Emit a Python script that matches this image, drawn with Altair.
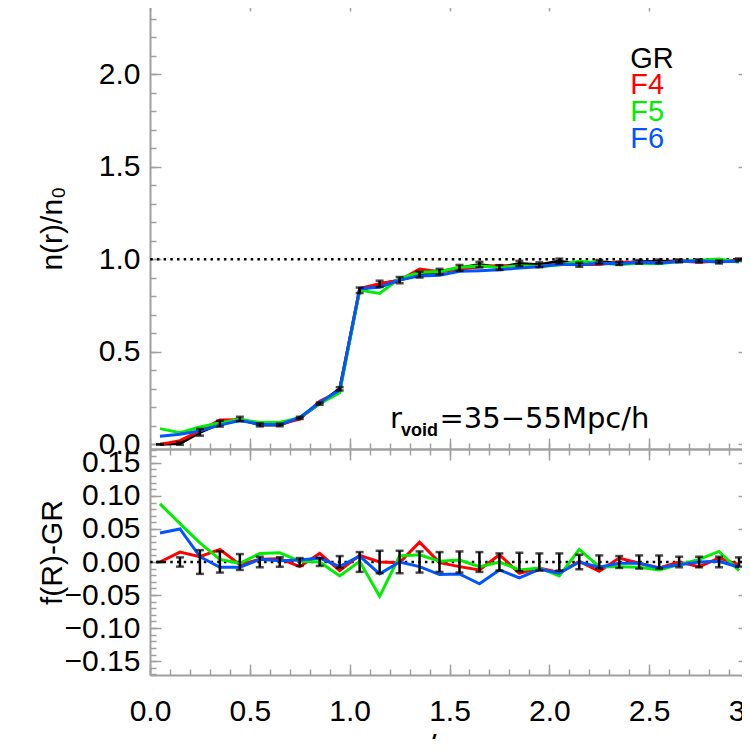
import altair as alt
import pandas as pd

# ---------------- data ----------------
r = [0.05, 0.15, 0.25, 0.35, 0.45, 0.55, 0.65, 0.75, 0.85, 0.95,
     1.05, 1.15, 1.25, 1.35, 1.45, 1.55, 1.65, 1.75, 1.85, 1.95,
     2.05, 2.15, 2.25, 2.35, 2.45, 2.55, 2.65, 2.75, 2.85, 2.95]

n_gr = [0.000, 0.005, 0.065, 0.112, 0.137, 0.105, 0.105, 0.143, 0.220, 0.300,
        0.832, 0.867, 0.887, 0.917, 0.933, 0.953, 0.971, 0.955, 0.977, 0.970,
        0.990, 0.970, 0.986, 0.978, 0.986, 0.988, 0.991, 0.991, 0.985, 0.997]
n_f4 = [0.000, 0.020, 0.073, 0.131, 0.133, 0.109, 0.110, 0.136, 0.233, 0.287,
        0.842, 0.867, 0.886, 0.947, 0.932, 0.946, 0.959, 0.966, 0.960, 0.961,
        0.974, 0.971, 0.972, 0.984, 0.984, 0.979, 0.991, 0.984, 0.991, 0.993]
n_f5 = [0.085, 0.063, 0.094, 0.116, 0.135, 0.118, 0.119, 0.144, 0.220, 0.279,
        0.833, 0.815, 0.896, 0.928, 0.934, 0.956, 0.964, 0.955, 0.965, 0.961,
        0.969, 0.989, 0.979, 0.971, 0.978, 0.976, 0.987, 0.995, 1.001, 0.984]
n_f6 = [0.044, 0.055, 0.073, 0.104, 0.129, 0.109, 0.107, 0.146, 0.226, 0.293,
        0.841, 0.849, 0.887, 0.910, 0.914, 0.935, 0.938, 0.943, 0.953, 0.959,
        0.973, 0.970, 0.978, 0.976, 0.984, 0.979, 0.987, 0.991, 0.986, 0.989]
err_gr = [0.000, 0.007, 0.018, 0.016, 0.012, 0.008, 0.007, 0.006, 0.006, 0.009,
          0.015, 0.017, 0.017, 0.016, 0.015, 0.016, 0.015, 0.013, 0.014, 0.013,
          0.013, 0.011, 0.010, 0.009, 0.010, 0.010, 0.008, 0.008, 0.008, 0.007]

d_f4 = [0.000, 0.015, 0.008, 0.019, -0.004, 0.004, 0.005, -0.007, 0.013, -0.013,
        0.010, 0.000, -0.001, 0.030, -0.001, -0.007, -0.012, 0.011, -0.017, -0.009,
        -0.016, 0.001, -0.014, 0.006, -0.002, -0.009, 0.000, -0.007, 0.006, -0.004]
d_f5 = [0.088, 0.058, 0.029, 0.004, -0.002, 0.013, 0.014, 0.001, 0.000, -0.021,
        0.001, -0.052, 0.009, 0.011, 0.001, 0.003, -0.007, 0.000, -0.012, -0.009,
        -0.021, 0.019, -0.007, -0.007, -0.008, -0.012, -0.004, 0.004, 0.016, -0.013]
d_f6 = [0.044, 0.050, 0.008, -0.008, -0.008, 0.004, 0.002, 0.003, 0.006, -0.007,
        0.009, -0.018, 0.000, -0.007, -0.019, -0.018, -0.033, -0.012, -0.024, -0.011,
        -0.017, 0.000, -0.008, -0.002, -0.002, -0.009, -0.004, 0.000, 0.001, -0.008]
d_gr = [0.0] * len(r)

models = ["GR", "F4", "F5", "F6"]
colors = ["#000000", "#ff0000", "#00ee00", "#0055ff"]
x_ticks = [0.0, 0.5, 1.0, 1.5, 2.0, 2.5, 3.0]
y_ticks_top = [0.0, 0.5, 1.0, 1.5, 2.0]
y_ticks_bot = [-0.15, -0.10, -0.05, 0.0, 0.05, 0.10, 0.15]
top_ref = [1.0]
bot_ref = [0.0]
annotation = ["r", "void", "=35\u221255Mpc/h"]
x_title = ["r/r", "void"]

# ---------------- styling ----------------
W, H_TOP, H_BOT = 599, 449, 226
GREY = "#a0a0a0"
FONT = "Liberation Sans"

xs = alt.Scale(domain=[0.0, 3.0], nice=False, zero=False)
ys_top = alt.Scale(domain=[-0.025, 2.4], nice=False, zero=False)
ys_bot = alt.Scale(domain=[-0.171, 0.171], nice=False, zero=False)

x_minor = [round(0.1 * i, 2) for i in range(0, 31)]
y_minor_top = [round(0.1 * i, 2) for i in range(0, 24)]
y_minor_bot = [round(0.01 * i, 2) for i in range(-17, 18)]

df_top = pd.DataFrame({"r": r * 4,
                       "v": n_gr + n_f4 + n_f5 + n_f6,
                       "model": sum([[m] * len(r) for m in models], [])})
df_bot = pd.DataFrame({"r": r * 4,
                       "v": d_gr + d_f4 + d_f5 + d_f6,
                       "model": sum([[m] * len(r) for m in models], [])})
df_err_top = pd.DataFrame({"r": r,
                           "lo": [a - e for a, e in zip(n_gr, err_gr)],
                           "hi": [a + e for a, e in zip(n_gr, err_gr)]})
df_err_bot = pd.DataFrame({"r": r,
                           "lo": [a - e for a, e in zip(d_gr, err_gr)],
                           "hi": [a + e for a, e in zip(d_gr, err_gr)]})


def tick_axis(orient, offset, values, size, domain):
    return alt.Axis(orient=orient, offset=offset, values=values, tickSize=size,
                    tickColor=GREY, tickWidth=1.5, labels=False, domain=domain,
                    domainColor=GREY, domainWidth=2, grid=False, title=None)


def carrier(df, ys, xaxis, yaxis):
    return alt.Chart(df).mark_point(opacity=0).encode(
        x=alt.X("r:Q", scale=xs, axis=xaxis),
        y=alt.Y("v:Q", scale=ys, axis=yaxis))


def frame_layers(df, ys, H, x_label_axis, y_label_axis, y_major, y_minor):
    return [
        carrier(df, ys, x_label_axis, y_label_axis),
        carrier(df, ys, tick_axis("bottom", -H, x_ticks, 11, True),
                tick_axis("right", -W, y_major, 11, False)),
        carrier(df, ys, tick_axis("bottom", -H, x_minor, 6, False),
                tick_axis("right", -W, y_minor, 6, False)),
        carrier(df, ys, tick_axis("top", -H, x_ticks, 11, False),
                tick_axis("left", -W, y_major, 11, True)),
        carrier(df, ys, tick_axis("top", -H, x_minor, 6, False),
                tick_axis("left", -W, y_minor, 6, False)),
    ]


def data_layers(df, df_err, ys, ref_value, line_models):
    layers = [
        alt.Chart(pd.DataFrame({"ref": ref_value})).mark_rule(
            color="black", strokeDash=[2.5, 4.2], strokeWidth=2.5).encode(
            y=alt.Y("ref:Q", scale=ys, axis=None))
    ]
    for m, c in zip(models, colors):
        if m not in line_models:
            continue
        layers.append(
            alt.Chart(df).transform_filter(alt.datum.model == m).mark_line(
                color=c, strokeWidth=3).encode(
                x=alt.X("r:Q", scale=xs, axis=None),
                y=alt.Y("v:Q", scale=ys, axis=None)))
    layers.append(
        alt.Chart(df_err).mark_rule(color="black", strokeWidth=2.5).encode(
            x=alt.X("r:Q", scale=xs, axis=None),
            y=alt.Y("lo:Q", scale=ys, axis=None), y2="hi:Q"))
    for f in ["lo", "hi"]:
        layers.append(
            alt.Chart(df_err).mark_tick(color="black", orient="horizontal",
                                        size=8, thickness=2.5).encode(
                x=alt.X("r:Q", scale=xs, axis=None),
                y=alt.Y(f + ":Q", scale=ys, axis=None)))
    return layers


def text_at(txt, xv, yv, ys, **kw):
    return alt.Chart(pd.DataFrame({"t": [txt]})).mark_text(**kw).encode(
        x=alt.XDatum(xv, type="quantitative", scale=xs, axis=None),
        y=alt.YDatum(yv, type="quantitative", scale=ys, axis=None),
        text="t:N")


# ---------------- top panel ----------------
y_axis_top = alt.Axis(orient="left", values=y_ticks_top, format=".1f",
                      labelFontSize=30, labelFont=FONT, labelColor="black",
                      labelPadding=10, ticks=False, domain=True, domainColor=GREY,
                      domainWidth=2, grid=False, labelFlush=False, labelOverlap=False,
                      title="n(r)/n\u2080", titleFont=FONT, titleFontSize=30,
                      titleFontWeight="normal", titleColor="black",
                      titleX=-98, titleY=228, titleAlign="center",
                      titleBaseline="middle", titleAngle=270)
x_axis_top = alt.Axis(orient="bottom", values=x_ticks, labels=False, ticks=False,
                      domain=True, domainColor=GREY, domainWidth=2, grid=False,
                      title=None)

legend_y = [2.033, 1.892, 1.746, 1.600]
top_layers = data_layers(df_top, df_err_top, ys_top, top_ref, models)
for m, c, yv in zip(models, colors, legend_y):
    top_layers.append(text_at(m, 2.405, yv, ys_top, color=c, font=FONT,
                              fontSize=29, align="left", baseline="alphabetic"))
top_layers.append(text_at(annotation[0], 1.202, 0.089, ys_top, color="black",
                          font="DejaVu Sans", fontSize=29, align="left",
                          baseline="alphabetic"))
top_layers.append(text_at(annotation[1], 1.257, 0.045, ys_top, color="black",
                          font=FONT, fontSize=18, fontWeight="bold", align="left",
                          baseline="alphabetic"))
top_layers.append(text_at(annotation[2], 1.45, 0.089, ys_top, color="black",
                          font="DejaVu Sans", fontSize=29, align="left",
                          baseline="alphabetic"))
top_layers += frame_layers(df_top, ys_top, H_TOP, x_axis_top, y_axis_top,
                           y_ticks_top, y_minor_top)

top = alt.layer(*top_layers).resolve_axis(x="independent", y="independent").properties(
    width=W, height=H_TOP)

# ---------------- bottom panel ----------------
y_axis_bot = alt.Axis(orient="left", values=y_ticks_bot, format=".2f",
                      labelFontSize=30, labelFont=FONT, labelColor="black",
                      labelPadding=10, ticks=False, domain=True, domainColor=GREY,
                      domainWidth=2, grid=False, labelFlush=False, labelOverlap=False,
                      title="f(R)-GR", titleFont=FONT, titleFontSize=30,
                      titleFontWeight="normal", titleColor="black",
                      titleX=-98, titleY=103, titleAlign="center",
                      titleBaseline="middle", titleAngle=270)
x_axis_bot = alt.Axis(orient="bottom", values=x_ticks, format=".1f",
                      labelFontSize=30, labelFont=FONT, labelColor="black",
                      labelPadding=21, ticks=False, domain=True, domainColor=GREY,
                      domainWidth=2, grid=False, labelFlush=False, labelOverlap=False,
                      title=x_title[0], titleFont="DejaVu Sans", titleFontSize=32,
                      titleFontWeight="normal", titleColor="black",
                      titleX=262, titleY=56, titleAlign="left", titleBaseline="top")

bot_layers = data_layers(df_bot, df_err_bot, ys_bot, bot_ref, ["F4", "F5", "F6"])
bot_layers.append(text_at(x_title[1], 1.552, -0.171, ys_bot, color="black", font=FONT,
                          fontSize=20, fontWeight="bold", align="left",
                          baseline="top", dy=72))
bot_layers += frame_layers(df_bot, ys_bot, H_BOT, x_axis_bot, y_axis_bot,
                           y_ticks_bot, y_minor_bot)

bot = alt.layer(*bot_layers).resolve_axis(x="independent", y="independent").properties(
    width=W, height=H_BOT)

chart = alt.vconcat(top, bot, spacing=0, bounds="flush").properties(
    padding={"left": 29, "top": -9, "right": -28, "bottom": -28}
).configure_view(strokeWidth=0)

chart.save("out.html", embed_options={"renderer": "svg", "actions": False})
